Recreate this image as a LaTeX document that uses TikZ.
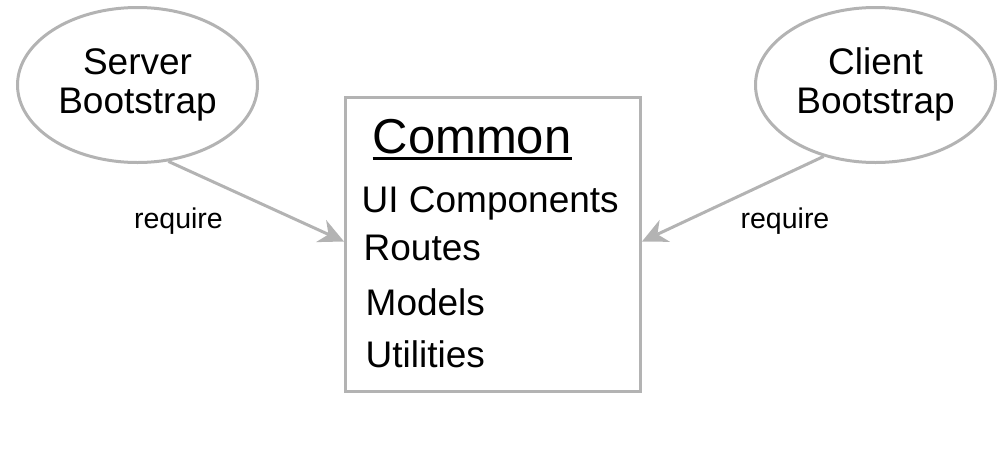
\documentclass[tikz,border=0pt]{standalone}
\usepackage{fontspec}
\setmainfont{Liberation Sans}
\usetikzlibrary{shapes.geometric,arrows.meta,calc}
\definecolor{edgegray}{HTML}{B3B3B3}
\tikzset{
  boot/.style={ellipse, draw=edgegray, line width=3pt, minimum width=240pt, minimum height=155pt, inner sep=0pt},
  txt/.style={font=\fontsize{37}{44}\selectfont, inner sep=0pt, anchor=base west},
  lbl/.style={font=\fontsize{28.5}{34}\selectfont, inner sep=0pt, anchor=base},
  req/.style={draw=edgegray, line width=3pt, -{Stealth[length=25pt,width=24pt,inset=8pt]}}
}
\begin{document}
\begin{tikzpicture}[x=1pt,y=-1pt]
\useasboundingbox (0,0) rectangle (998,458);
\node[boot] (srv) at (137.5,85) {};
\node[boot] (cli) at (875.5,85) {};
\node[txt, anchor=base] (srv1) at (137.5,74) {Server};
\node[txt, anchor=base] (srv2) at (137.5,113) {Bootstrap};
\node[txt, anchor=base] (cli1) at (875.5,74) {Client};
\node[txt, anchor=base] (cli2) at (875.5,113) {Bootstrap};
\node[draw=edgegray, line width=3pt, minimum width=295pt, minimum height=294pt, inner sep=0pt] (box) at (493,244.5) {};
\node[font=\fontsize{49}{58}\selectfont, inner sep=0pt, anchor=base west] (common) at (372.5,153) {Common};
\draw[line width=3pt] ($(common.base west)+(0,5)$) -- ($(common.base east)+(0,5)$);
\node[txt] (ui) at (361.5,212) {UI Components};
\node[txt] (routes) at (363.5,260) {Routes};
\node[txt] (models) at (365.5,315) {Models};
\node[txt] (util) at (365.5,367) {Utilities};
\draw[req] (srv.-68) -- ($(box.west)+(0,-3)$);
\draw[req] (cli.-126) -- ($(box.east)+(0,-3)$);
\node[lbl] (l1) at (178.5,228) {require};
\node[lbl] (l2) at (785,228) {require};
\end{tikzpicture}
\end{document}
